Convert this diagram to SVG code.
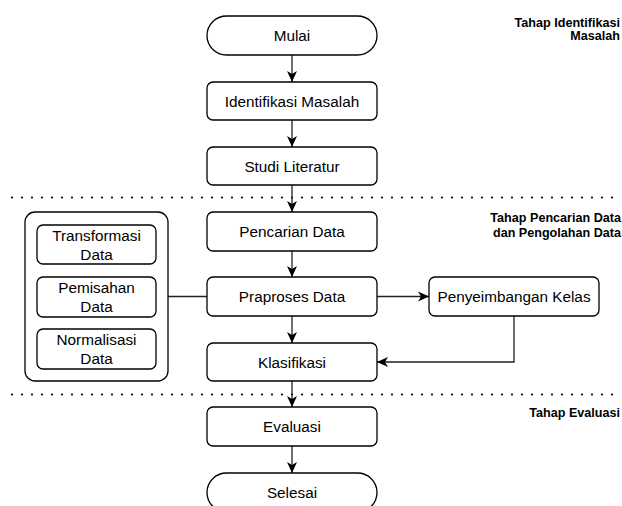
<svg xmlns="http://www.w3.org/2000/svg" width="622" height="506" viewBox="0 0 622 506">
<style>
.box{fill:#fff;stroke:#000;stroke-width:1.3}
.t{font-family:"Liberation Sans",Arial,sans-serif;font-size:15.3px;fill:#000;text-anchor:middle;dominant-baseline:central}
.lbl{font-family:"Liberation Sans",Arial,sans-serif;font-size:12.6px;font-weight:bold;fill:#000;text-anchor:end;dominant-baseline:central}
.c{fill:none;stroke:#222;stroke-width:1.3}
.dot{stroke:#000;stroke-width:2.2;stroke-dasharray:0 10;stroke-linecap:round;fill:none}
</style>
<defs>
<marker id="ah" markerUnits="userSpaceOnUse" markerWidth="12" markerHeight="12" viewBox="0 0 12 12" refX="11" refY="6" orient="auto">
<path d="M0,1 L11,6 L0,11 L3,6 z" fill="#000"/>
</marker>
</defs>
<g id="separators">
<line class="dot" x1="12" y1="197.5" x2="622" y2="197.5"/>
<line class="dot" x1="12" y1="394.5" x2="622" y2="394.5"/>
</g>
<g id="labels">
<text class="lbl" x="620" y="23">Tahap Identifikasi</text>
<text class="lbl" x="620" y="36">Masalah</text>
<text class="lbl" x="621" y="218">Tahap Pencarian Data</text>
<text class="lbl" x="621" y="233">dan Pengolahan Data</text>
<text class="lbl" x="620" y="413">Tahap Evaluasi</text>
</g>
<g id="connectors">
<line class="c" x1="292" y1="55" x2="292" y2="82" marker-end="url(#ah)"/>
<line class="c" x1="292" y1="120" x2="292" y2="147" marker-end="url(#ah)"/>
<line class="c" x1="292" y1="185" x2="292" y2="212" marker-end="url(#ah)"/>
<line class="c" x1="292" y1="251" x2="292" y2="277" marker-end="url(#ah)"/>
<line class="c" x1="292" y1="316" x2="292" y2="343" marker-end="url(#ah)"/>
<line class="c" x1="292" y1="381" x2="292" y2="407" marker-end="url(#ah)"/>
<line class="c" x1="292" y1="446" x2="292" y2="473" marker-end="url(#ah)"/>
<line class="c" x1="377" y1="296.5" x2="429" y2="296.5" marker-end="url(#ah)"/>
<polyline class="c" points="514,316 514,362 377,362" marker-end="url(#ah)"/>
<line class="c" x1="168" y1="296.5" x2="207" y2="296.5"/>
</g>
<g id="mulai">
<rect class="box" x="207" y="16" width="170" height="39" rx="19.5"/>
<text class="t" x="292" y="35.5">Mulai</text>
</g>
<g id="identifikasi">
<rect class="box" x="207" y="82" width="170" height="38" rx="6"/>
<text class="t" x="292" y="101">Identifikasi Masalah</text>
</g>
<g id="studi">
<rect class="box" x="207" y="147" width="170" height="38" rx="6"/>
<text class="t" x="292" y="166">Studi Literatur</text>
</g>
<g id="pencarian">
<rect class="box" x="207" y="212" width="170" height="39" rx="6"/>
<text class="t" x="292" y="231.5">Pencarian Data</text>
</g>
<g id="praproses">
<rect class="box" x="207" y="277" width="170" height="39" rx="6"/>
<text class="t" x="292" y="296.5">Praproses Data</text>
</g>
<g id="klasifikasi">
<rect class="box" x="207" y="343" width="170" height="38" rx="6"/>
<text class="t" x="292" y="362">Klasifikasi</text>
</g>
<g id="penyeimbangan">
<rect class="box" x="429" y="277" width="170" height="39" rx="6"/>
<text class="t" x="514" y="296.5">Penyeimbangan Kelas</text>
</g>
<g id="evaluasi">
<rect class="box" x="207" y="407" width="170" height="39" rx="6"/>
<text class="t" x="292" y="426.5">Evaluasi</text>
</g>
<g id="selesai">
<rect class="box" x="207" y="473" width="170" height="39" rx="19.5"/>
<text class="t" x="292" y="492">Selesai</text>
</g>
<g id="praproses-group">
<rect class="box" x="25" y="212" width="143" height="169" rx="10"/>
</g>
<g id="transformasi">
<rect class="box" x="37" y="225" width="119" height="39" rx="6"/>
<text class="t" x="96.5" y="235.5">Transformasi</text>
<text class="t" x="96.5" y="254.5">Data</text>
</g>
<g id="pemisahan">
<rect class="box" x="37" y="277" width="119" height="40" rx="6"/>
<text class="t" x="96.5" y="287.5">Pemisahan</text>
<text class="t" x="96.5" y="306.5">Data</text>
</g>
<g id="normalisasi">
<rect class="box" x="37" y="329" width="119" height="40" rx="6"/>
<text class="t" x="96.5" y="339.5">Normalisasi</text>
<text class="t" x="96.5" y="358.5">Data</text>
</g>
</svg>
